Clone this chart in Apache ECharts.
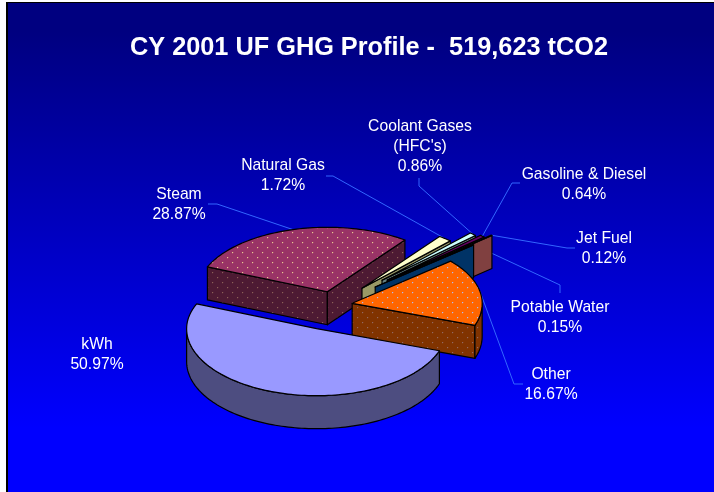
<!DOCTYPE html>
<html><head><meta charset="utf-8">
<style>html,body{margin:0;padding:0;background:#fff}#c{width:714px;height:492px}</style>
<script src="https://cdn.jsdelivr.net/npm/echarts@6/dist/echarts.min.js"></script>
</head><body><div id="c"></div>
<script>
const titleText = "CY 2001 UF GHG Profile -  519,623 tCO2";
const names = ["kWh","Steam","Natural Gas","Coolant Gases\n(HFC's)","Gasoline & Diesel","Jet Fuel","Potable Water","Other"];
const shares = [50.97,28.87,1.72,0.86,0.64,0.12,0.15,16.67];

// styling / layout, separate from the data
const topColors  = ["#9999FF","#993366","#FFFFCC","#CCFFFF","#660066","#FF8080","#0066CC","#FF6600"];
const wallColors = ["#4D4D80","#4D1A33","#999966","#668080","#330033","#804040","#003366","#803300"];
const dotted     = [null,"#e8c890",null,null,null,null,null,"#b0bcf0"];
const explode    = [50,27,43,68,72,80,54,18];
const paintOrder = [1,2,3,4,5,6,7,0];
const labelPos   = [[97,355],[179,205],[283,176],[420,147],[584,185],[604,249],[560,318],[551,385]];
const elbows     = [null,[[208,204],[217,204]],[[326,176],[333,176]],[[419,178],[419,186]],[[520,183],[512,183]],[[575,248],[567,248]],[[560,293],[560,285]],[[523,384],[514,384]]];
const startDeg = 19.2, CX = 334.5, CY = 305, RX = 130, RY = 66, RY_FRONT = 67, RY_BACK = 64.5, DEPTH = 33;

const rad = d => d*Math.PI/180;
let acc = startDeg;
const spans = shares.map(v => { const s = acc, e = acc + v*3.6; acc = e; return [s,e]; });
function apex(i){
  const m = rad((spans[i][0]+spans[i][1])/2);
  return [CX + explode[i]*Math.cos(m), CY + explode[i]*Math.sin(m)*RY/RX];
}
function rim(a,d,dy){
  const sn = Math.sin(rad(d));
  return [a[0]+RX*Math.cos(rad(d)), a[1]+(sn>0?RY_FRONT:RY_BACK)*sn+(dy||0)];
}
function arcPts(a,s,e,dy){
  const n = Math.max(1,Math.ceil((e-s)/1.5)), out = [];
  for(let k=0;k<=n;k++) out.push(rim(a,s+(e-s)*k/n,dy));
  return out;
}
function tile(bg,dot){
  const c = document.createElement('canvas'); c.width = 10; c.height = 10;
  const g = c.getContext('2d');
  g.fillStyle = bg; g.fillRect(0,0,10,10);
  g.fillStyle = dot;
  g.fillRect(2,2,1,1); g.fillRect(7,7,1,1);
  g.globalAlpha = .2;
  g.fillRect(3,2,1,1); g.fillRect(2,3,1,1); g.fillRect(8,7,1,1); g.fillRect(7,8,1,1);
  return {image:c, repeat:'repeat'};
}
function mix(a,b,t){
  const p = h => [1,3,5].map(i=>parseInt(h.substr(i,2),16));
  const x=p(a),y=p(b); return '#'+x.map((v,i)=>Math.round(v+(y[i]-v)*t).toString(16).padStart(2,'0')).join('');
}
const topFill  = topColors.map((c,i)=> dotted[i] ? tile(c,dotted[i]) : c);
const wallFill = wallColors.map((c,i)=> dotted[i] ? tile(c,mix(c,dotted[i],.4)) : c);
const lineSt = f => ({fill:f, stroke:'#000', lineWidth:1.2, lineJoin:'round'});

function renderSlice(params, api){
  const i = api.value(0), a = apex(i), s = spans[i][0], e = spans[i][1], kids = [];
  const poly = (pts,f)=>kids.push({type:'polygon',shape:{points:pts},style:lineSt(f)});
  const wallOf = d => [a, rim(a,d), rim(a,d,DEPTH), [a[0],a[1]+DEPTH]];
  if(Math.cos(rad(s))<0) poly(wallOf(s),wallFill[i]);
  if(Math.cos(rad(e))>0) poly(wallOf(e),wallFill[i]);
  [[0,180],[360,540]].forEach(([lo,hi])=>{
    const u=Math.max(s,lo), v=Math.min(e,hi);
    if(v>u) poly(arcPts(a,u,v).concat(arcPts(a,u,v,DEPTH).reverse()),wallFill[i]);
  });
  poly([a].concat(arcPts(a,s,e)),topFill[i]);
  return {type:'group',children:kids};
}
function renderLabel(params, api){
  const i = api.value(0), kids = [];
  if(elbows[i]){
    const d=(spans[i][0]+spans[i][1])/2;
    const tip=rim(apex(i),d);
    kids.push({type:'polyline',shape:{points:elbows[i].concat([tip])},style:{fill:null,stroke:'#3366FF',lineWidth:1}});
  }
  kids.push({type:'text',style:{text:names[i]+'\n'+shares[i].toFixed(2)+'%',x:labelPos[i][0],y:labelPos[i][1],
    align:'center',verticalAlign:'middle',fill:'#fff',font:'15.7px "Liberation Sans"',lineHeight:20}});
  return {type:'group',children:kids};
}

const chart = echarts.init(document.getElementById('c'));
chart.setOption({
  animation:false,
  backgroundColor:'#fff',
  title:{text:titleText,left:369,top:48,padding:0,textAlign:'center',textVerticalAlign:'middle',
    textStyle:{color:'#fff',fontFamily:'"Liberation Sans"',fontWeight:'bold',fontSize:25.3}},
  graphic:[
    {type:'rect',shape:{x:6,y:2,width:708,height:490},style:{fill:{type:'linear',x:0,y:0,x2:0,y2:1,
      colorStops:[{offset:0,color:'#000080'},{offset:0.06,color:'#000080'},{offset:0.87,color:'#0000FF'},{offset:1,color:'#0000FF'}]}}},
    {type:'rect',shape:{x:6,y:2,width:2,height:490},style:{fill:'#000'}},
    {type:'rect',shape:{x:6,y:2,width:708,height:1},style:{fill:'#000'}}
  ],
  series:[
    {type:'custom',coordinateSystem:'none',z:2,silent:true,clip:false,renderItem:renderLabel,encode:{},
     data:shares.map((v,i)=>[i,v])},
    {type:'custom',coordinateSystem:'none',z:3,silent:true,clip:false,renderItem:renderSlice,encode:{},
     data:paintOrder.map(i=>[i,shares[i]])}
  ]
});
</script></body></html>
